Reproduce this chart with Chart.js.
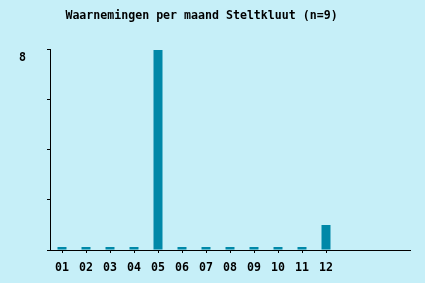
<!DOCTYPE html>
<html>
<head>
<meta charset="utf-8">
<script src="https://cdn.jsdelivr.net/npm/chart.js@4/dist/chart.umd.min.js"></script>
<style>
  html, body { margin: 0; padding: 0; background: #c6eff8; }
  #wrap { width: 425px; height: 283px; }
</style>
</head>
<body>
<div id="wrap"><canvas id="chart" width="425" height="283"></canvas></div>
<script>
// maanden (laatste drie kolommen zijn leeg in het origineel)
const months = ['01', '02', '03', '04', '05', '06', '07', '08', '09', '10', '11', '12', '', '', ''];
const counts = [0, 0, 0, 0, 8, 0, 0, 0, 0, 0, 0, 1, null, null, null];
const yTicksShown = [8];

const mono = { family: 'DejaVu Sans Mono', size: 11.6, weight: 'bold' };

const ctx = document.getElementById('chart');
new Chart(ctx, {
  type: 'bar',
  data: {
    labels: months,
    datasets: [{
      data: counts,
      backgroundColor: '#0088a8',
      borderWidth: 0,
      categoryPercentage: 1,
      barPercentage: 0.375,
      minBarLength: 3,
    }],
  },
  options: {
    responsive: false,
    animation: false,
    layout: { padding: { left: 0, right: 15, top: 0, bottom: 0 } },
    plugins: {
      legend: { display: false },
      tooltip: { enabled: false },
      title: {
        display: true,
        text: 'Waarnemingen per maand Steltkluut (n=9) ',
        color: '#000',
        font: mono,
        padding: { top: 9, bottom: 27 },
      },
    },
    scales: {
      x: {
        offset: true,
        grid: {
          offset: false,
          drawOnChartArea: false,
          tickLength: 3,
          color: (c) => (c.index < 12 ? '#000' : 'rgba(0,0,0,0)'),
        },
        border: { color: '#000', width: 1 },
        ticks: { color: '#000', font: mono, padding: 8, maxRotation: 0, autoSkip: false },
        afterFit: (scale) => { scale.height = 33; },
      },
      y: {
        min: 0,
        max: 8,
        grid: { drawOnChartArea: false, tickLength: 3, color: '#000' },
        border: { color: '#000', width: 1 },
        ticks: {
          stepSize: 2,
          color: '#000',
          font: mono,
          padding: 21,
          labelOffset: 8,
          callback: (v) => (yTicksShown.includes(v) ? String(v) : ''),
        },
        afterFit: (scale) => { scale.width = 50; },
      },
    },
  },
});
</script>
</body>
</html>
